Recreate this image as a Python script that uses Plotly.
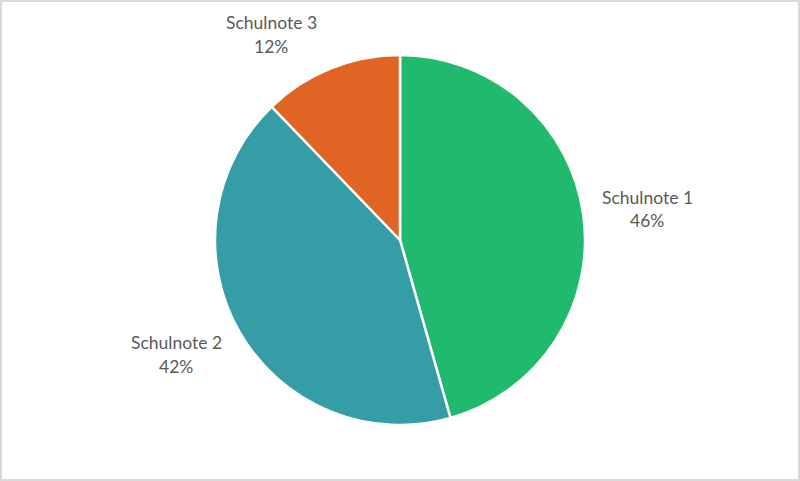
import plotly.graph_objects as go

labels = ["Schulnote 1", "Schulnote 2", "Schulnote 3"]
values = [45.6, 42.2, 12.2]
colors = ["#1FBA6E", "#349DA6", "#E06524"]

W, H = 800, 481
cx, cy, r = 400, 240, 185

# label placement (pixel centres of the two text lines for each slice)
label_pos = {
    "Schulnote 1": (647, 197.5, 221),
    "Schulnote 2": (176, 342, 366.5),
    "Schulnote 3": (271, 22, 46.5),
}

fig = go.Figure(go.Pie(
    labels=labels,
    values=values,
    sort=False,
    direction="clockwise",
    rotation=0,
    marker=dict(colors=colors, line=dict(color="white", width=2.5)),
    textinfo="none",
    showlegend=False,
    hoverinfo="label+percent",
    domain=dict(x=[(cx - r) / W, (cx + r) / W], y=[(H - cy - r) / H, (H - cy + r) / H]),
))

total = sum(values)
font = dict(family="Lato", size=17.5, color="#595959")
annotations = []
for lab, val in zip(labels, values):
    x, y1, y2 = label_pos[lab]
    for txt, yy in ((lab, y1), (f"{val / total * 100:.0f}%", y2)):
        annotations.append(dict(
            text=txt, x=x / W, y=1 - yy / H, xref="paper", yref="paper",
            xanchor="center", yanchor="middle", showarrow=False, font=font,
        ))

fig.update_layout(
    width=W, height=H,
    margin=dict(l=0, r=0, t=0, b=0),
    paper_bgcolor="white",
    plot_bgcolor="white",
    annotations=annotations,
    shapes=[dict(type="rect", xref="paper", yref="paper", x0=0, y0=0, x1=1, y1=1,
                 line=dict(color="#D9D9D9", width=4), fillcolor="rgba(0,0,0,0)")],
)

fig.write_html("out.html", config={"displayModeBar": False},
               post_script="document.body.style.margin='0';document.body.style.overflow='hidden';")
